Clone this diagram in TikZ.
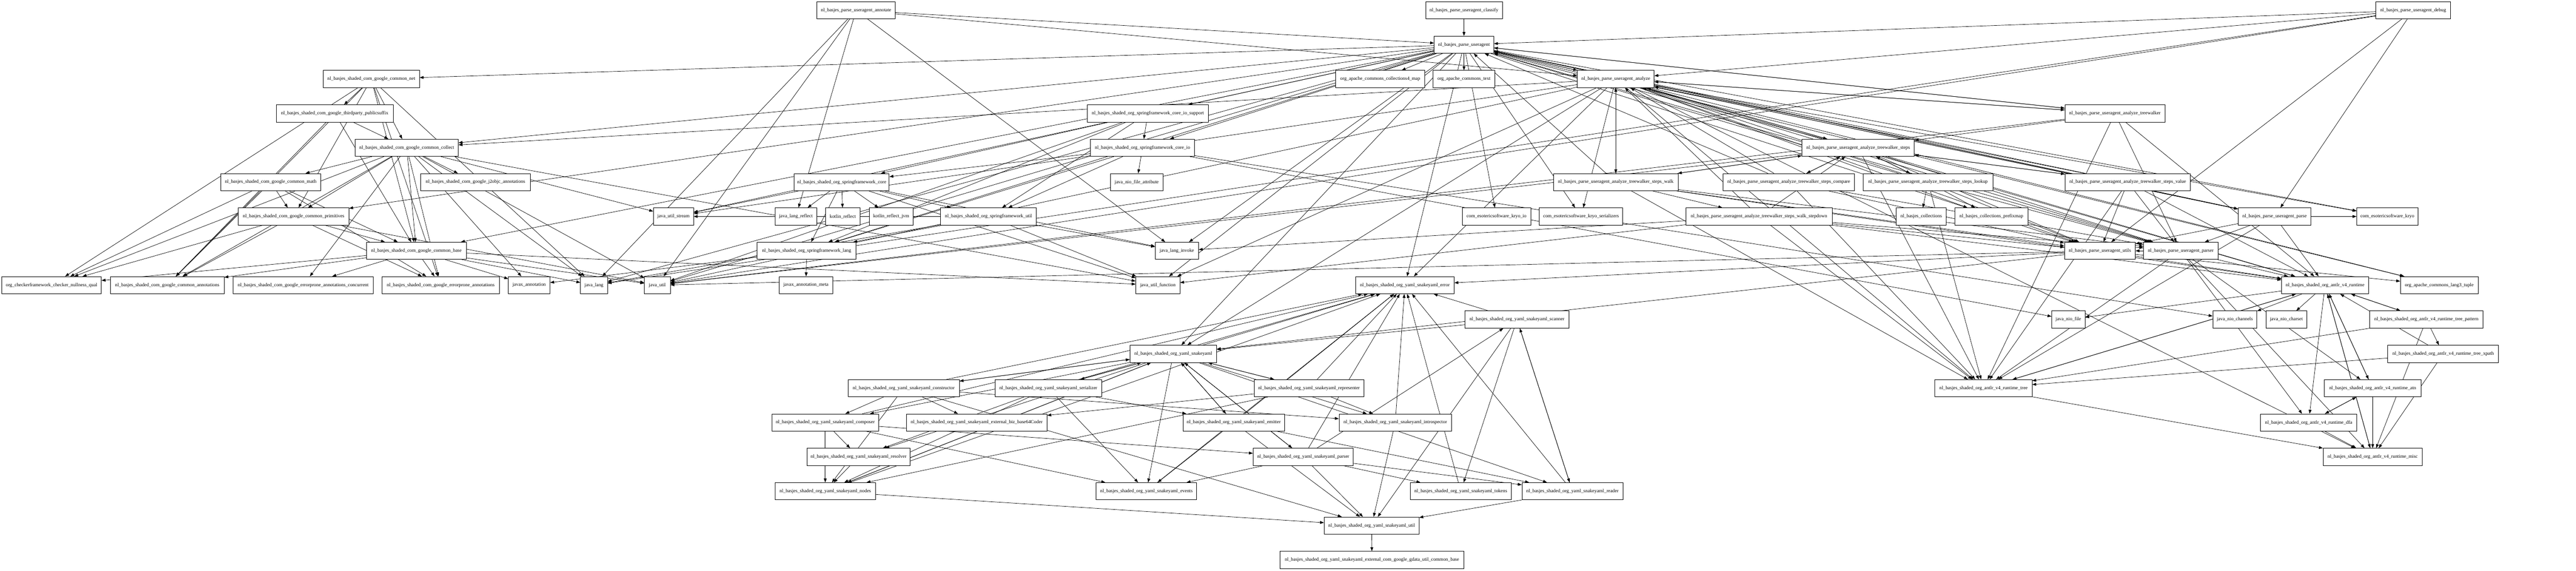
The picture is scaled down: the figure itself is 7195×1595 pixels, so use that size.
\documentclass[tikz,border=0pt]{standalone}
\usepackage{fontspec}
\setmainfont{Liberation Serif}
\usepackage{tikz}
\usetikzlibrary{arrows.meta}
\pgfdeclarelayer{bg}
\pgfsetlayers{bg,main}

\begin{document}
\begin{tikzpicture}[x=1pt, y=-1pt, >={Triangle[length=11pt,width=8pt]},
  pkg/.style={draw, line width=1.2pt, fill=white, minimum height=48pt, inner xsep=8pt, font=\fontsize{13.5}{15}\selectfont},
  dep/.style={draw, ->, line width=1pt}]
\useasboundingbox (0,0) rectangle (7195,1595);
\node[pkg, minimum width=218pt] (annotate) at (2391,29) {nl\_basjes\_parse\_useragent\_annotate};
\node[pkg, minimum width=214pt] (classify) at (4089,29) {nl\_basjes\_parse\_useragent\_classify};
\node[pkg, minimum width=208pt] (debug) at (6740,29) {nl\_basjes\_parse\_useragent\_debug};
\node[pkg, minimum width=166pt] (ua) at (4089,125) {nl\_basjes\_parse\_useragent};
\node[pkg, minimum width=269pt] (net) at (1037,221) {nl\_basjes\_shaded\_com\_google\_common\_net};
\node[pkg, minimum width=248pt] (cmap) at (3855,221) {org\_apache\_commons\_collections4\_map};
\node[pkg, minimum width=172pt] (ctext) at (4089,221) {org\_apache\_commons\_text};
\node[pkg, minimum width=214pt] (analyze) at (4513,221) {nl\_basjes\_parse\_useragent\_analyze};
\node[pkg, minimum width=326pt] (psuffix) at (935,317) {nl\_basjes\_shaded\_com\_google\_thirdparty\_publicsuffix};
\node[pkg, minimum width=338pt] (iosupport) at (3206,317) {nl\_basjes\_shaded\_org\_springframework\_core\_io\_support};
\node[pkg, minimum width=279pt] (twalker) at (5907,317) {nl\_basjes\_parse\_useragent\_analyze\_treewalker};
\node[pkg, minimum width=288pt] (collect) at (1136,413) {nl\_basjes\_shaded\_com\_google\_common\_collect};
\node[pkg, minimum width=290pt] (coreio) at (3191,413) {nl\_basjes\_shaded\_org\_springframework\_core\_io};
\node[pkg, minimum width=314pt] (steps) at (5190,413) {nl\_basjes\_parse\_useragent\_analyze\_treewalker\_steps};
\node[pkg, minimum width=280pt] (gmath) at (756,509) {nl\_basjes\_shaded\_com\_google\_common\_math};
\node[pkg, minimum width=307pt] (jtwo) at (1328,509) {nl\_basjes\_shaded\_com\_google\_j2objc\_annotations};
\node[pkg, minimum width=265pt] (score) at (2351,509) {nl\_basjes\_shaded\_org\_springframework\_core};
\node[pkg, minimum width=147pt] (nfattr) at (3175,509) {java\_nio\_file\_attribute};
\node[pkg, minimum width=349pt] (walk) at (4513,509) {nl\_basjes\_parse\_useragent\_analyze\_treewalker\_steps\_walk};
\node[pkg, minimum width=368pt] (compare) at (4996,509) {nl\_basjes\_parse\_useragent\_analyze\_treewalker\_steps\_compare};
\node[pkg, minimum width=362pt] (lookup) at (5385,509) {nl\_basjes\_parse\_useragent\_analyze\_treewalker\_steps\_lookup};
\node[pkg, minimum width=350pt] (value) at (5943,509) {nl\_basjes\_parse\_useragent\_analyze\_treewalker\_steps\_value};
\node[pkg, minimum width=309pt] (prims) at (820,605) {nl\_basjes\_shaded\_com\_google\_common\_primitives};
\node[pkg, minimum width=112pt] (jstream) at (1881,605) {java\_util\_stream};
\node[pkg, minimum width=117pt] (jreflect) at (2223,605) {java\_lang\_reflect};
\node[pkg, minimum width=97pt] (kreflect) at (2354,605) {kotlin\_reflect};
\node[pkg, minimum width=122pt] (kreflectjvm) at (2489,605) {kotlin\_reflect\_jvm};
\node[pkg, minimum width=268pt] (sutil) at (2761,605) {nl\_basjes\_shaded\_org\_springframework\_util};
\node[pkg, minimum width=191pt] (kryoio) at (4180,605) {com\_esotericsoftware\_kryo\_io};
\node[pkg, minimum width=233pt] (kryoser) at (4416,605) {com\_esotericsoftware\_kryo\_serializers};
\node[pkg, minimum width=409pt] (stepdown) at (4913,605) {nl\_basjes\_parse\_useragent\_analyze\_treewalker\_steps\_walk\_stepdown};
\node[pkg, minimum width=140pt] (bcoll) at (5366,605) {nl\_basjes\_collections};
\node[pkg, minimum width=204pt] (prefixmap) at (5562,605) {nl\_basjes\_collections\_prefixmap};
\node[pkg, minimum width=203pt] (uaparse) at (6353,605) {nl\_basjes\_parse\_useragent\_parse};
\node[pkg, minimum width=171pt] (kryo) at (6668,605) {com\_esotericsoftware\_kryo};
\node[pkg, minimum width=279pt] (gbase) at (1163,701) {nl\_basjes\_shaded\_com\_google\_common\_base};
\node[pkg, minimum width=276pt] (slang) at (2253,701) {nl\_basjes\_shaded\_org\_springframework\_lang};
\node[pkg, minimum width=121pt] (jinvoke) at (3287,701) {java\_lang\_invoke};
\node[pkg, minimum width=198pt] (uautils) at (5865,701) {nl\_basjes\_parse\_useragent\_utils};
\node[pkg, minimum width=208pt] (uaparser) at (6091,701) {nl\_basjes\_parse\_useragent\_parser};
\node[pkg, minimum width=278pt] (checker) at (144,797) {org\_checkerframework\_checker\_nullness\_qual};
\node[pkg, minimum width=318pt] (gannot) at (467,797) {nl\_basjes\_shaded\_com\_google\_common\_annotations};
\node[pkg, minimum width=392pt] (epconc) at (847,797) {nl\_basjes\_shaded\_com\_google\_errorprone\_annotations\_concurrent};
\node[pkg, minimum width=328pt] (ep) at (1231,797) {nl\_basjes\_shaded\_com\_google\_errorprone\_annotations};
\node[pkg, minimum width=116pt] (jxannot) at (1478,797) {javax\_annotation};
\node[pkg, minimum width=75pt] (jlang) at (1659,797) {java\_lang};
\node[pkg, minimum width=72pt] (jutil) at (1836,797) {java\_util};
\node[pkg, minimum width=150pt] (jxmeta) at (2251,797) {javax\_annotation\_meta};
\node[pkg, minimum width=123pt] (jfunc) at (3234,797) {java\_util\_function};
\node[pkg, minimum width=275pt] (yerror) at (3924,797) {nl\_basjes\_shaded\_org\_yaml\_snakeyaml\_error};
\node[pkg, minimum width=243pt] (antlr) at (6494,797) {nl\_basjes\_shaded\_org\_antlr\_v4\_runtime};
\node[pkg, minimum width=217pt] (tuple) at (6813,797) {org\_apache\_commons\_lang3\_tuple};
\node[pkg, minimum width=290pt] (yscanner) at (4237,893) {nl\_basjes\_shaded\_org\_yaml\_snakeyaml\_scanner};
\node[pkg, minimum width=93pt] (nfile) at (5777,893) {java\_nio\_file};
\node[pkg, minimum width=123pt] (nchan) at (6242,893) {java\_nio\_channels};
\node[pkg, minimum width=113pt] (ncharset) at (6386,893) {java\_nio\_charset};
\node[pkg, minimum width=316pt] (tpattern) at (6777,893) {nl\_basjes\_shaded\_org\_antlr\_v4\_runtime\_tree\_pattern};
\node[pkg, minimum width=242pt] (yaml) at (3277,989) {nl\_basjes\_shaded\_org\_yaml\_snakeyaml};
\node[pkg, minimum width=309pt] (txpath) at (6824,989) {nl\_basjes\_shaded\_org\_antlr\_v4\_runtime\_tree\_xpath};
\node[pkg, minimum width=311pt] (yconstr) at (2524,1085) {nl\_basjes\_shaded\_org\_yaml\_snakeyaml\_constructor};
\node[pkg, minimum width=297pt] (yserial) at (2928,1085) {nl\_basjes\_shaded\_org\_yaml\_snakeyaml\_serializer};
\node[pkg, minimum width=307pt] (yrepr) at (3656,1085) {nl\_basjes\_shaded\_org\_yaml\_snakeyaml\_representer};
\node[pkg, minimum width=271pt] (atree) at (5540,1085) {nl\_basjes\_shaded\_org\_antlr\_v4\_runtime\_tree};
\node[pkg, minimum width=270pt] (atn) at (6627,1085) {nl\_basjes\_shaded\_org\_antlr\_v4\_runtime\_atn};
\node[pkg, minimum width=299pt] (ycomposer) at (2305,1181) {nl\_basjes\_shaded\_org\_yaml\_snakeyaml\_composer};
\node[pkg, minimum width=393pt] (ybase64) at (2728,1181) {nl\_basjes\_shaded\_org\_yaml\_snakeyaml\_external\_biz\_base64Coder};
\node[pkg, minimum width=284pt] (yemitter) at (3446,1181) {nl\_basjes\_shaded\_org\_yaml\_snakeyaml\_emitter};
\node[pkg, minimum width=314pt] (yintro) at (3897,1181) {nl\_basjes\_shaded\_org\_yaml\_snakeyaml\_introspector};
\node[pkg, minimum width=270pt] (dfa) at (6448,1181) {nl\_basjes\_shaded\_org\_antlr\_v4\_runtime\_dfa};
\node[pkg, minimum width=288pt] (yresolver) at (2398,1277) {nl\_basjes\_shaded\_org\_yaml\_snakeyaml\_resolver};
\node[pkg, minimum width=280pt] (yparser) at (3640,1277) {nl\_basjes\_shaded\_org\_yaml\_snakeyaml\_parser};
\node[pkg, minimum width=277pt] (misc) at (6627,1277) {nl\_basjes\_shaded\_org\_antlr\_v4\_runtime\_misc};
\node[pkg, minimum width=281pt] (ynodes) at (2305,1373) {nl\_basjes\_shaded\_org\_yaml\_snakeyaml\_nodes};
\node[pkg, minimum width=281pt] (yevents) at (3202,1373) {nl\_basjes\_shaded\_org\_yaml\_snakeyaml\_events};
\node[pkg, minimum width=283pt] (ytokens) at (4080,1373) {nl\_basjes\_shaded\_org\_yaml\_snakeyaml\_tokens};
\node[pkg, minimum width=282pt] (yreader) at (4392,1373) {nl\_basjes\_shaded\_org\_yaml\_snakeyaml\_reader};
\node[pkg, minimum width=265pt] (yutil) at (3831,1469) {nl\_basjes\_shaded\_org\_yaml\_snakeyaml\_util};
\node[pkg, minimum width=514pt] (ygdata) at (3832,1565) {nl\_basjes\_shaded\_org\_yaml\_snakeyaml\_external\_com\_google\_gdata\_util\_common\_base};
\begin{pgfonlayer}{bg}
\path[dep] (annotate) edge (ua) edge (analyze) edge (jlang) edge (jutil) edge (jreflect) edge (jinvoke);
\path[dep] (classify) edge (ua);
\path[dep] (debug) edge (ua) edge (analyze) edge (jutil) edge (jlang) edge (uaparse) edge (uautils);
\path[dep] (ua) edge (net) edge (collect) edge (cmap) edge (ctext) edge (analyze) edge (iosupport) edge (coreio) edge (prims) edge (gbase) edge (jstream) edge (jutil) edge (jlang) edge (jfunc) edge (jinvoke) edge (kryo) edge (kryoio) edge (kryoser) edge (uautils) edge (uaparse) edge (uaparser) edge (yaml) edge (yerror) edge (slang) edge (tuple) edge (twalker);
\path[dep] (analyze) edge (ua) edge (twalker) edge (steps) edge (walk) edge (jutil) edge (jfunc) edge (jstream) edge (uautils) edge (uaparse) edge (uaparser) edge (antlr) edge (atree) edge (misc) edge (yaml) edge (yerror) edge (kryo) edge (kryoser) edge (prefixmap) edge (tuple) edge (collect);
\path[dep] (twalker) edge (analyze) edge (ua) edge (steps) edge (antlr) edge (atree) edge (uaparser) edge (jutil);
\path[dep] (steps) edge (analyze) edge (ua) edge (compare) edge (lookup) edge (value) edge (walk) edge (antlr) edge (atree) edge (uaparser) edge (uautils) edge (jutil);
\path[dep] (walk) edge (analyze) edge (steps) edge (stepdown) edge (ua) edge (antlr) edge (atree) edge (uaparser) edge (uautils);
\path[dep] (compare) edge (steps) edge (analyze) edge (ua) edge (atree) edge (uaparser) edge (uautils);
\path[dep] (lookup) edge (steps) edge (analyze) edge (ua) edge (atree) edge (uaparser) edge (uautils) edge (bcoll) edge (prefixmap);
\path[dep] (value) edge (steps) edge (analyze) edge (ua) edge (atree) edge (uaparser) edge (uautils) edge (antlr);
\path[dep] (stepdown) edge (analyze) edge (steps) edge (uaparser) edge (uautils) edge (antlr) edge (atree) edge (jinvoke) edge (jfunc);
\path[dep] (uaparse) edge (ua) edge (analyze) edge (uautils) edge (uaparser) edge (antlr) edge (atree) edge (kryo);
\path[dep] (uautils) edge (yerror) edge (yaml) edge (antlr) edge (tuple) edge (jutil);
\path[dep] (uaparser) edge (antlr) edge (atree) edge (atn) edge (dfa) edge (misc) edge (uautils);
\path[dep] (net) edge (psuffix) edge (collect) edge (gbase) edge (prims) edge (checker) edge (gannot) edge (ep) edge (jlang);
\path[dep] (psuffix) edge (collect) edge (gbase) edge (gannot);
\path[dep] (collect) edge (gmath) edge (jtwo) edge (prims) edge (gbase) edge (checker) edge (gannot) edge (epconc) edge (ep) edge (jxannot) edge (jutil) edge (jstream) edge (jfunc) edge (jlang);
\path[dep] (gmath) edge (prims) edge (gbase) edge (checker) edge (gannot) edge (ep);
\path[dep] (prims) edge (gbase) edge (checker) edge (gannot) edge (ep) edge (jutil);
\path[dep] (gbase) edge (checker) edge (gannot) edge (epconc) edge (ep) edge (jxannot) edge (jlang) edge (jutil) edge (jfunc);
\path[dep] (iosupport) edge (coreio) edge (score) edge (sutil) edge (slang) edge (jutil);
\path[dep] (coreio) edge (nfattr) edge (score) edge (slang) edge (sutil) edge (nfile) edge (nchan);
\path[dep] (score) edge (slang) edge (jreflect) edge (kreflect) edge (kreflectjvm) edge (sutil) edge (jstream) edge (jinvoke) edge (jfunc);
\path[dep] (slang) edge (jxannot) edge (jxmeta);
\path[dep] (sutil) edge (slang) edge (jfunc) edge (jinvoke) edge (jstream) edge (jlang);
\path[dep] (antlr) edge (atree) edge (atn) edge (dfa) edge (misc) edge (nfile) edge (nchan) edge (ncharset) edge (tpattern);
\path[dep] (tpattern) edge (antlr) edge (txpath) edge (atree) edge (misc);
\path[dep] (txpath) edge (antlr) edge (atree) edge (misc);
\path[dep] (atree) edge (antlr) edge (misc);
\path[dep] (atn) edge (antlr) edge (dfa) edge (misc);
\path[dep] (dfa) edge (atn) edge (misc);
\path[dep] (misc) edge (antlr);
\path[dep] (yaml) edge (yerror) edge (yconstr) edge (yserial) edge (yrepr) edge (ycomposer) edge (yemitter) edge (yintro) edge (yresolver) edge (yparser) edge (ynodes) edge (yevents) edge (yreader);
\path[dep] (yscanner) edge (yerror) edge (yaml) edge (ytokens) edge (yreader) edge (yutil);
\path[dep] (yconstr) edge (yaml) edge (yerror) edge (ycomposer) edge (ynodes) edge (ybase64) edge (yintro) edge (yutil);
\path[dep] (yserial) edge (yaml) edge (yerror) edge (yemitter) edge (yevents) edge (ynodes) edge (yresolver);
\path[dep] (yrepr) edge (yaml) edge (yerror) edge (yintro) edge (ynodes) edge (ybase64);
\path[dep] (ycomposer) edge (yerror) edge (yevents) edge (ynodes) edge (yparser) edge (yresolver);
\path[dep] (yemitter) edge (yaml) edge (yerror) edge (yevents) edge (yreader) edge (yutil);
\path[dep] (yintro) edge (yerror) edge (yutil);
\path[dep] (yresolver) edge (ynodes);
\path[dep] (yparser) edge (yaml) edge (yerror) edge (yevents) edge (ytokens) edge (yreader) edge (yscanner) edge (yutil);
\path[dep] (ynodes) edge (yaml) edge (yerror) edge (yutil);
\path[dep] (yevents) edge (yerror);
\path[dep] (ytokens) edge (yerror);
\path[dep] (yreader) edge (yerror) edge (yscanner) edge (yutil);
\path[dep] (yutil) edge (ygdata);
\end{pgfonlayer}
\end{tikzpicture}
\end{document}
